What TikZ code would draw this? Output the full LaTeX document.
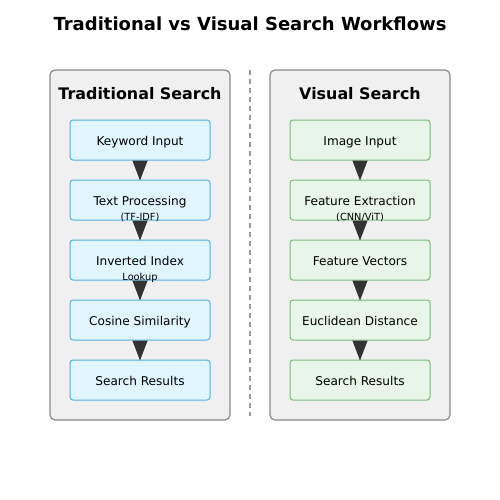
\documentclass[tikz,border=0pt]{standalone}
\usepackage{fontspec}
\setmainfont{DejaVu Sans}
\usetikzlibrary{arrows.meta}
\definecolor{panelfill}{HTML}{F0F0F0}
\definecolor{panelline}{HTML}{888888}
\definecolor{bluefill}{HTML}{E1F5FE}
\definecolor{blueline}{HTML}{55B0E3}
\definecolor{greenfill}{HTML}{E8F5E9}
\definecolor{greenline}{HTML}{79BC79}
\definecolor{arrowcol}{HTML}{333333}
\definecolor{dashcol}{HTML}{999999}
\begin{document}
\begin{tikzpicture}[x=1pt,y=-1pt,
  panel/.style={draw=panelline,fill=panelfill,line width=1.2pt,rounded corners=5pt,minimum width=180pt,minimum height=350pt,inner sep=0pt},
  tbox/.style={rounded corners=3pt,line width=1pt,minimum width=140pt,minimum height=40pt,inner sep=0pt},
  bluebox/.style={tbox,draw=blueline,fill=bluefill},
  greenbox/.style={tbox,draw=greenline,fill=greenfill},
  lbl/.style={font=\fontsize{12.1}{14}\selectfont,inner sep=0pt,anchor=base},
  sub/.style={font=\fontsize{9.8}{11}\selectfont,inner sep=0pt,anchor=base},
  ptitle/.style={font=\fontsize{15.9}{18}\selectfont\bfseries,inner sep=0pt,anchor=base},
  flow/.style={draw=arrowcol,line width=1pt,-{Triangle[length=20pt,width=15pt]},fill=arrowcol,shorten >=-1pt}
]
\useasboundingbox (0,0) rectangle (500,500);
\node[font=\fontsize{18}{21}\selectfont\bfseries,inner sep=0pt,anchor=base] (title) at (250,31) {Traditional vs Visual Search Workflows};
% panels
\node[panel] (pl) at (140,245) {};
\node[panel] (pr) at (360,245) {};
\node[ptitle] (tl) at (140,100) {Traditional Search};
\node[ptitle] (tr) at (360,100) {Visual Search};
% divider
\coordinate (d1) at (250,70);
\coordinate (d2) at (250,416);
\draw[dashcol,line width=1.5pt,dash pattern=on 5pt off 4pt] (d1) -- (d2);
% left boxes
\node[bluebox] (l1) at (140,140) {};
\node[bluebox] (l2) at (140,200) {};
\node[bluebox] (l3) at (140,260) {};
\node[bluebox] (l4) at (140,320) {};
\node[bluebox] (l5) at (140,380) {};
% right boxes
\node[greenbox] (r1) at (360,140) {};
\node[greenbox] (r2) at (360,200) {};
\node[greenbox] (r3) at (360,260) {};
\node[greenbox] (r4) at (360,320) {};
\node[greenbox] (r5) at (360,380) {};
% arrows
\foreach \a/\b in {l1/l2,l2/l3,l3/l4,l4/l5,r1/r2,r2/r3,r3/r4,r4/r5}
  \draw[flow] (\a.south) -- (\b.north);
% labels
\node[lbl] (t1) at (140,145.5) {Keyword Input};
\node[lbl] (t2) at (140,205.5) {Text Processing};
\node[sub] (s2) at (140,220) {(TF-IDF)};
\node[lbl] (t3) at (140,265.5) {Inverted Index};
\node[sub] (s3) at (140,280) {Lookup};
\node[lbl] (t4) at (140,325.5) {Cosine Similarity};
\node[lbl] (t5) at (140,385.5) {Search Results};
\node[lbl] (u1) at (360,145.5) {Image Input};
\node[lbl] (u2) at (360,205.5) {Feature Extraction};
\node[sub] (v2) at (360,220) {(CNN/ViT)};
\node[lbl] (u3) at (360,265.5) {Feature Vectors};
\node[lbl] (u4) at (360,325.5) {Euclidean Distance};
\node[lbl] (u5) at (360,385.5) {Search Results};
\end{tikzpicture}
\end{document}
